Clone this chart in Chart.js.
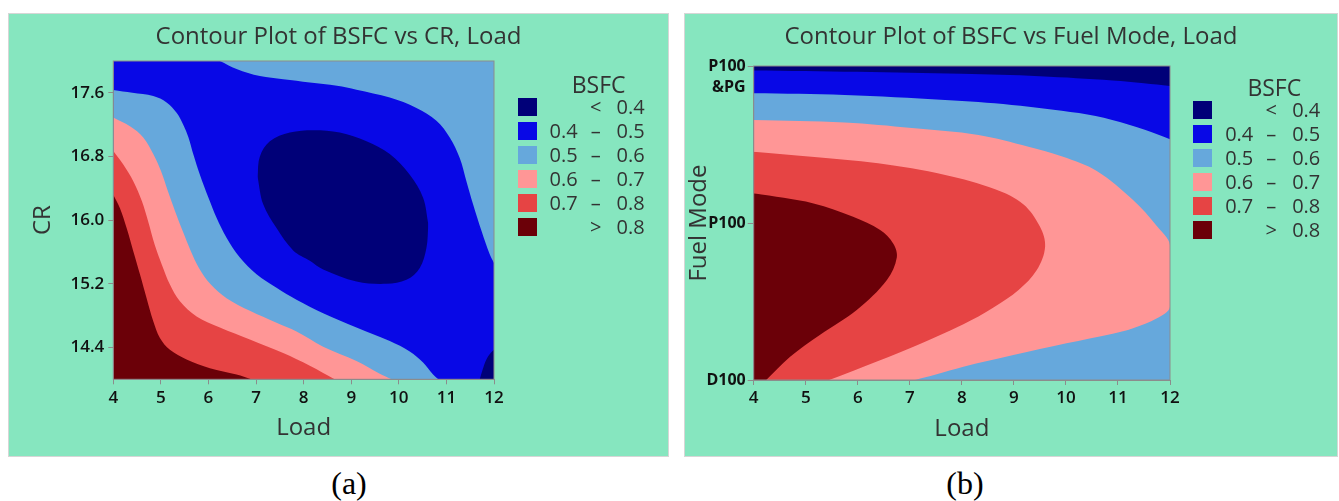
<!DOCTYPE html>
<html>
<head>
<meta charset="utf-8">
<script src="https://cdn.jsdelivr.net/npm/chart.js@4.4.1/dist/chart.umd.min.js"></script>
<style>
  body { margin: 0; background: #fff; width: 1339px; height: 501px; position: relative; overflow: hidden; font-family: 'Open Sans', sans-serif; }
  .panel { position: absolute; top: 14px; height: 442px; background: #86e6bf; box-shadow: 0 0 0 1px #d6d6d6; }
  .panel canvas { position: absolute; left: 0; top: 0; }
  .lg { position: absolute; color: #333; font-size: 20px; line-height: 18px; height: 18px; white-space: nowrap; }
  .lg-title { position: absolute; color: #333; font-size: 23px; line-height: 26px; width: 100px; text-align: center; }
  .box { position: absolute; width: 19px; height: 18px; }
  .cap { position: absolute; top: 467px; font-family: 'Liberation Serif', serif; font-size: 32px; line-height: 32px; width: 80px; text-align: center; }
</style>
</head>
<body>
<div class="panel" style="left:9px; width:659px;"><canvas id="chartA" width="659" height="442"></canvas></div>
<div class="panel" style="left:685px; width:652px;"><canvas id="chartB" width="652" height="442"></canvas></div>
<div id="legendA"></div>
<div id="legendB"></div>
<div class="cap" style="left:309px;">(a)</div>
<div class="cap" style="left:925px;">(b)</div>
<script>
// axis ticks
const loadTicks = [4, 5, 6, 7, 8, 9, 10, 11, 12];
const crTicks = [14.4, 15.2, 16.0, 16.8, 17.6];
const fuelModeTicks = [0, 1, 2];
const fuelModeLabels = ['D100', 'P100', ['', 'P100', '&PG']];

// BSFC bands, low to high
const bsfcBands = [['', '<', '0.4'], ['0.4', '–', '0.5'], ['0.5', '–', '0.6'], ['0.6', '–', '0.7'], ['0.7', '–', '0.8'], ['', '>', '0.8']];
const bandColors = ['#000078', '#0808e6', '#66a8dc', '#ff9696', '#e64444', '#6b0008'];

// (a) contour boundaries, [Load, CR]
const aBase = [[4, 18], [12, 18]];
const aTopRight = [[6.24, 18], [6.59, 17.9], [7.08, 17.81], [7.57, 17.77], [8.13, 17.73], [8.7, 17.69], [9.11, 17.64], [9.81, 17.54], [10.37, 17.41], [10.79, 17.25], [11.07, 17.04], [11.28, 16.78], [11.42, 16.49], [11.56, 16.2], [11.74, 15.86], [11.91, 15.57], [12, 15.46]];
const aNavyLow = [[7.03, 16.55], [7.15, 16.2], [7.43, 15.9], [7.78, 15.62], [8.13, 15.49], [8.41, 15.38], [9.11, 15.23], [9.74, 15.2], [10.16, 15.25], [10.44, 15.4], [10.58, 15.65], [10.62, 15.95]];
const aNavyHigh = [[7.03, 16.55], [7.08, 16.8], [7.29, 16.99], [7.71, 17.1], [8.2, 17.13], [8.76, 17.1], [9.32, 16.99], [9.81, 16.83], [10.23, 16.57], [10.51, 16.28], [10.62, 15.95]];
const aNavyCorner = [[11.7, 14], [11.76, 14.12], [11.84, 14.25], [11.93, 14.33], [12, 14.37]];
const aBand06 = [[4, 17.635], [4.4, 17.6], [4.84, 17.56], [5.12, 17.48], [5.33, 17.35], [5.47, 17.2], [5.58, 17.04], [5.68, 16.83], [5.82, 16.57], [6.0, 16.28], [6.17, 16.03], [6.38, 15.78], [6.66, 15.53], [7.01, 15.32], [7.43, 15.15], [7.85, 15.0], [8.41, 14.83], [9.11, 14.65], [9.81, 14.48], [10.23, 14.35], [10.51, 14.21], [10.72, 14.06], [10.83, 14]];
const aBand07 = [[4, 17.29], [4.35, 17.18], [4.63, 17.04], [4.84, 16.83], [5.0, 16.62], [5.15, 16.36], [5.3, 16.11], [5.46, 15.86], [5.63, 15.61], [5.8, 15.4], [6.05, 15.19], [6.38, 15.02], [6.87, 14.86], [7.43, 14.71], [7.85, 14.6], [8.41, 14.41], [9.11, 14.23], [9.6, 14.07], [9.85, 14]];
const aBand08 = [[4, 16.87], [4.21, 16.7], [4.42, 16.49], [4.6, 16.24], [4.73, 15.99], [4.87, 15.69], [5.02, 15.44], [5.19, 15.19], [5.4, 14.98], [5.75, 14.79], [6.24, 14.65], [6.87, 14.5], [7.57, 14.33], [8.13, 14.17], [8.65, 14]];
const aBandTop = [[4, 16.32], [4.14, 16.15], [4.28, 15.9], [4.42, 15.61], [4.56, 15.32], [4.7, 15.02], [4.84, 14.73], [4.98, 14.52], [5.19, 14.37], [5.54, 14.25], [6.03, 14.14], [6.59, 14.06], [6.9, 14]];

// (b) contour boundaries, [Load, fuel mode position]
const bBase = [[4, 2], [12, 2]];
const bBlue = [[4, 1.826], [5.75, 1.815], [7.68, 1.783], [8.96, 1.752], [10.25, 1.7], [10.89, 1.656], [11.53, 1.592], [12, 1.533]];
const bNavy = [[4, 1.972], [6, 1.963], [8, 1.95], [9.5, 1.935], [10.9, 1.908], [11.5, 1.89], [12, 1.873]];
const bPink = [[7.1, 0], [7.5, 0.035], [8.03, 0.085], [8.99, 0.159], [10.01, 0.234], [10.9, 0.295], [11.29, 0.33], [11.75, 0.393], [12, 0.467], [12, 0.86], [11.75, 0.98], [11.29, 1.146], [10.6, 1.33], [9.93, 1.423], [9.28, 1.486], [8.32, 1.561], [7.04, 1.605], [5.75, 1.64], [4, 1.656]];
const bRed = [[5.45, 0], [6.11, 0.085], [7.07, 0.212], [8.03, 0.355], [8.6, 0.46], [9.09, 0.573], [9.44, 0.7], [9.6, 0.849], [9.5, 0.977], [9.18, 1.12], [8.64, 1.215], [7.68, 1.306], [6.39, 1.38], [5.11, 1.422], [4, 1.454]];
const bDark = [[4.24, 0], [4.7, 0.148], [5.27, 0.287], [5.98, 0.446], [6.56, 0.637], [6.75, 0.78], [6.68, 0.87], [6.43, 0.955], [5.91, 1.04], [5.15, 1.125], [4, 1.189]];

const font = 'Open Sans';

// layers are listed bottom first; order makes Chart.js paint them that way
function layers(list) {
    return list.map((l, i) => Object.assign({
        data: l.pts.map(p => ({x: p[0], y: p[1]})),
        backgroundColor: l.color,
        borderWidth: 0,
        pointRadius: 0,
        pointHoverRadius: 0,
        tension: 0.35,
        fill: l.fill,
        order: 100 - i
    }, l.extra || {}));
}

const frame = {
    id: 'frame',
    afterDatasetsDraw(chart) {
        const {ctx, chartArea: a} = chart;
        ctx.save();
        ctx.strokeStyle = '#8c8c8c';
        ctx.lineWidth = 1;
        ctx.strokeRect(a.left, a.top, a.width, a.height);
        ctx.restore();
    }
};

function axisStyle(tickLen) {
    return {
        grid: {drawOnChartArea: false, drawTicks: true, tickLength: tickLen, color: '#8c8c8c'},
        border: {display: true, color: '#8c8c8c'}
    };
}

function makeChart(id, cfg) {
    return new Chart(document.getElementById(id), {
        type: 'line',
        data: {datasets: cfg.datasets},
        options: {
            responsive: false,
            animation: false,
            events: [],
            layout: {padding: 0},
            plugins: {
                legend: {display: false},
                tooltip: {enabled: false},
                title: {
                    display: true, text: cfg.title, color: '#333',
                    font: {family: font, size: 24, weight: 'normal'},
                    padding: cfg.titlePad
                }
            },
            scales: {
                x: Object.assign(axisStyle(5), {
                    type: 'linear', min: 4, max: 12,
                    afterBuildTicks: s => { s.ticks = loadTicks.map(v => ({value: v})); },
                    afterFit: s => { s.height = cfg.xHeight; },
                    ticks: {color: '#111', padding: cfg.xTickPad, font: {family: font, size: 17, weight: '600'}},
                    title: {display: true, text: 'Load', color: '#333', font: {family: font, size: 24}, padding: {top: 0, bottom: cfg.xTitlePad}}
                }),
                y: Object.assign(axisStyle(cfg.yTickLen), {
                    type: 'linear', min: cfg.yMin, max: cfg.yMax,
                    afterBuildTicks: s => { s.ticks = cfg.yTicks.map(v => ({value: v})); },
                    afterFit: s => { s.width = cfg.yWidth; },
                    ticks: {color: '#111', padding: cfg.yTickPad, font: cfg.yTickFont, callback: cfg.yLabel},
                    title: {display: true, text: cfg.yTitle, color: '#333', font: {family: font, size: 24}, padding: {top: cfg.yTitlePad, bottom: 0}}
                }),
                // empty right-hand axis that keeps room for the BSFC key
                keyRoom: {
                    type: 'linear', position: 'right', display: true,
                    afterFit: s => { s.width = cfg.keyWidth; },
                    ticks: {display: false},
                    grid: {display: false},
                    border: {display: false}
                }
            }
        },
        plugins: [frame]
    });
}

makeChart('chartA', {
    title: 'Contour Plot of BSFC vs CR, Load',
    titlePad: {top: 8.6, bottom: 9.6},
    keyWidth: 174,
    xHeight: 76.7, xTickPad: 3.5, xTitlePad: 13.6,
    yMin: 14, yMax: 18, yTicks: crTicks, yWidth: 104.3, yTickLen: 5, yTickPad: 4,
    yTickFont: {family: font, size: 17, weight: '600'},
    yLabel: v => v.toFixed(1),
    yTitle: 'CR', yTitlePad: 20,
    datasets: layers([
        {pts: aBase, color: bandColors[1], fill: {value: 14}},
        {pts: aTopRight, color: bandColors[2], fill: {value: 18}},
        {pts: aNavyLow, color: bandColors[0], fill: false},
        {pts: aNavyHigh, color: bandColors[0], fill: '-1'},
        {pts: aNavyCorner, color: bandColors[0], fill: {value: 14}},
        {pts: aBand06, color: bandColors[2], fill: {value: 14}},
        {pts: aBand07, color: bandColors[3], fill: {value: 14}},
        {pts: aBand08, color: bandColors[4], fill: {value: 14}},
        {pts: aBandTop, color: bandColors[5], fill: {value: 14}}
    ])
});

makeChart('chartB', {
    title: 'Contour Plot of BSFC vs Fuel Mode, Load',
    titlePad: {top: 9.1, bottom: 14.1},
    keyWidth: 167,
    xHeight: 76, xTickPad: 2.5, xTitlePad: 12.6,
    yMin: 0, yMax: 2, yTicks: fuelModeTicks, yWidth: 68.7, yTickLen: 6, yTickPad: 2,
    yTickFont: {family: font, size: 16, weight: 'bold', lineHeight: 1.35},
    yLabel: v => fuelModeLabels[v],
    yTitle: 'Fuel Mode', yTitlePad: 0,
    datasets: layers([
        {pts: bBase, color: bandColors[2], fill: {value: 0}},
        {pts: bBlue, color: bandColors[1], fill: {value: 2}},
        {pts: bNavy, color: bandColors[0], fill: {value: 2}},
        {pts: bPink, color: bandColors[3], fill: {value: 4}, extra: {indexAxis: 'y'}},
        {pts: bRed, color: bandColors[4], fill: {value: 4}, extra: {indexAxis: 'y'}},
        {pts: bDark, color: bandColors[5], fill: {value: 4}, extra: {indexAxis: 'y'}}
    ])
});

function buildLegend(id, left, top) {
    const el = document.getElementById(id);
    let html = '<div class="lg-title" style="left:' + (left + 31) + 'px;top:' + (top - 27) + 'px">BSFC</div>';
    bsfcBands.forEach((b, i) => {
        const t = top + i * 24.05;
        html += '<div class="box" style="left:' + left + 'px;top:' + t + 'px;background:' + bandColors[i] + '"></div>';
        html += '<div class="lg" style="left:' + (left + 20) + 'px;top:' + t + 'px;width:40px;text-align:right">' + b[0] + '</div>';
        html += '<div class="lg" style="left:' + (left + 68) + 'px;top:' + t + 'px;width:20px;text-align:center">' + b[1] + '</div>';
        html += '<div class="lg" style="left:' + (left + 87) + 'px;top:' + t + 'px;width:40px;text-align:right">' + b[2] + '</div>';
    });
    el.innerHTML = html;
}
buildLegend('legendA', 517.7, 97.7);
buildLegend('legendB', 1193.3, 101);
</script>
</body>
</html>
